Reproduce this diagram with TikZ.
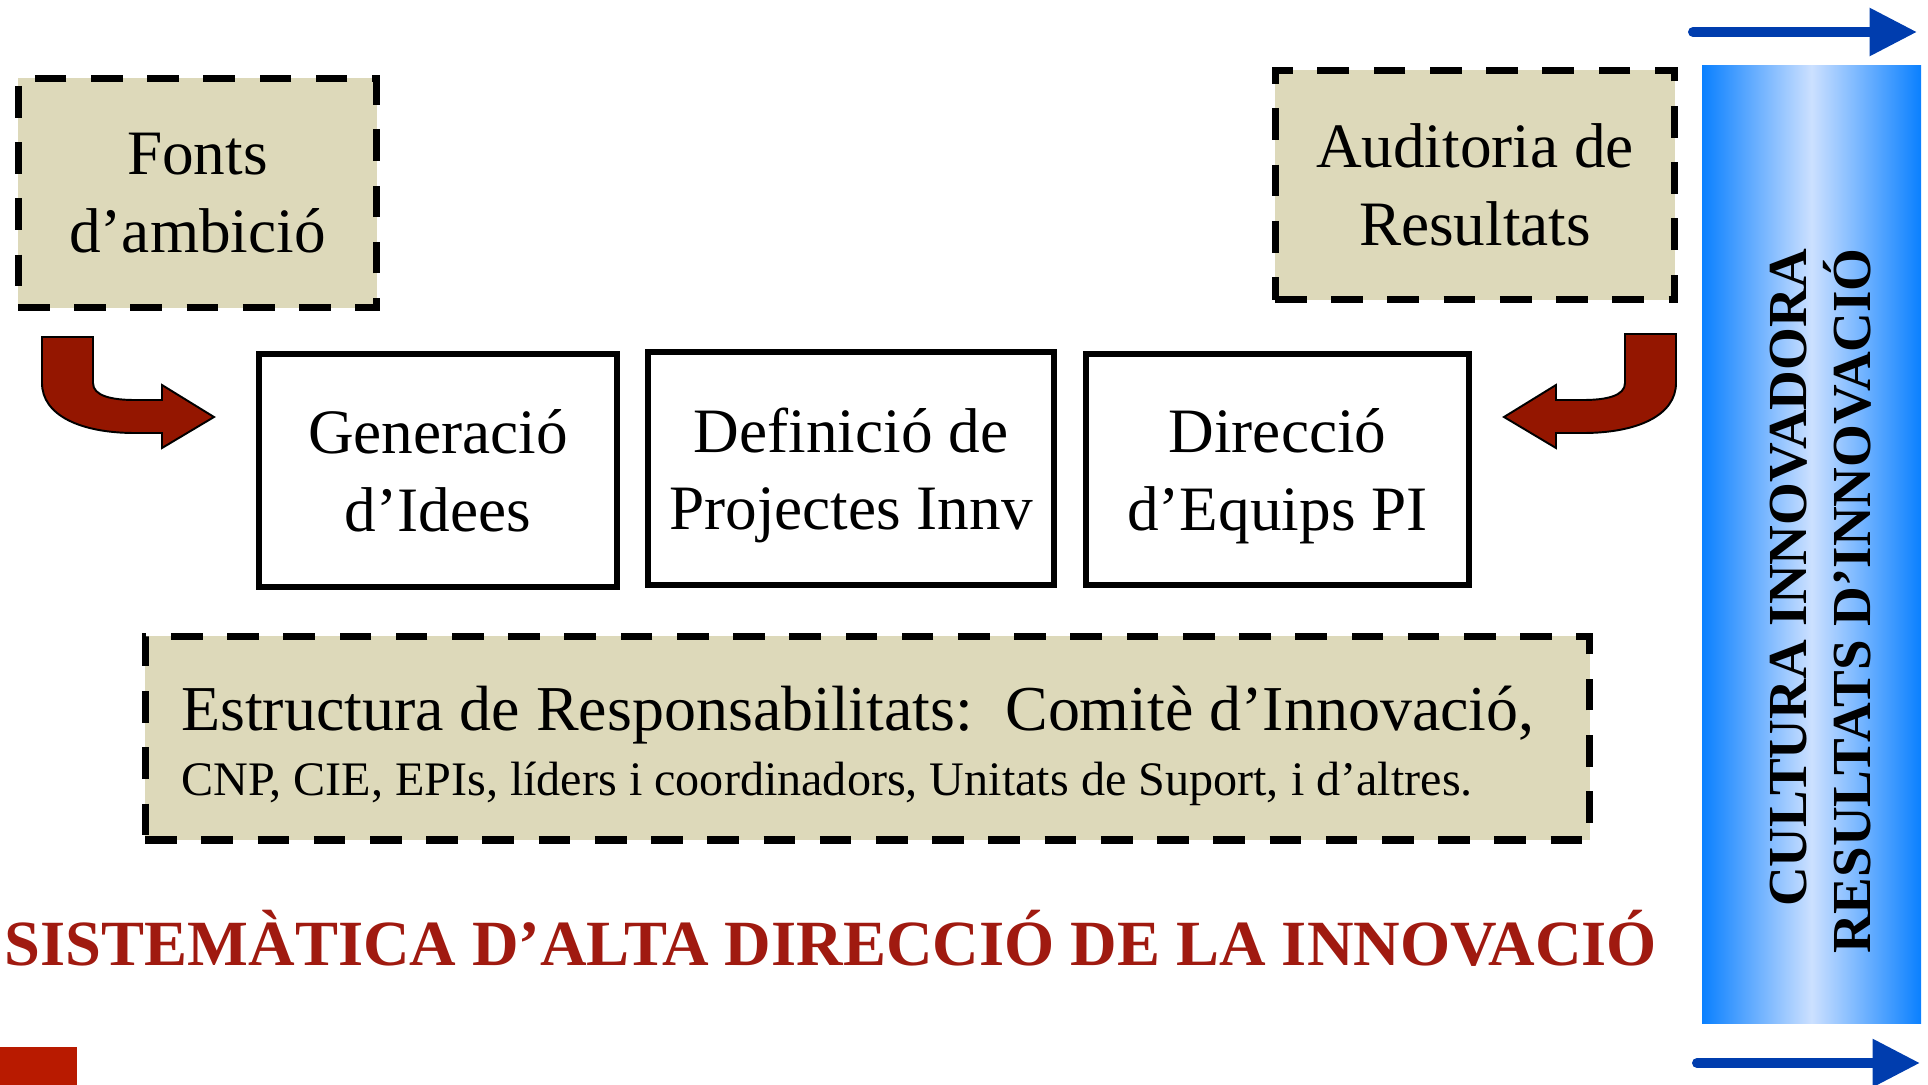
\documentclass[tikz,border=0pt]{standalone}
\usepackage{fontspec}
\setmainfont{Liberation Serif}
\usetikzlibrary{arrows.meta}

\definecolor{boxbeige}{RGB}{221,217,186}
\definecolor{arrowred}{RGB}{148,22,0}
\definecolor{titlered}{RGB}{160,26,16}
\definecolor{blockred}{RGB}{184,26,0}
\definecolor{arrowblue}{RGB}{0,61,174}
\definecolor{barblue}{RGB}{10,128,255}
\definecolor{barpale}{RGB}{204,224,255}

\tikzset{
  dashbox/.style={draw, line width=4pt, dash pattern=on 18pt off 14pt, fill=boxbeige,
    align=center, font=\fontsize{36}{44}\selectfont},
  solidbox/.style={draw, line width=3.4pt, align=center, text depth=0pt,
    font=\fontsize{36}{44}\selectfont},
  bentarrow/.style={draw=black, line width=1.1pt, fill=arrowred},
  bluearrow/.style={draw=arrowblue, line width=5.7pt, line cap=round,
    -{Triangle[length=27pt,width=26pt]}}
}

\begin{document}
\begin{tikzpicture}[x=0.02cm, y=-0.02cm]
    \useasboundingbox (0,0) rectangle (1928,1085);

    % Nodes
    \node[dashbox, minimum width=7.18cm, minimum height=4.6cm] (fonts) at (197.5,193) {Fonts\\d’ambició};
    \node[dashbox, minimum width=8cm, minimum height=4.6cm] (auditoria) at (1475,185) {Auditoria de\\Resultats};
    \node[solidbox, minimum width=7.16cm, minimum height=4.66cm] (generacio) at (438,470.5) {Generació\\d’Idees};
    \node[solidbox, minimum width=8.12cm, minimum height=4.66cm] (definicio) at (851,468.5) {Definició de\\Projectes Innv};
    \node[solidbox, minimum width=7.66cm, minimum height=4.62cm] (direccio) at (1277.5,469.5) {Direcció\\d’Equips PI};
    \node[dashbox, align=flush left, text width=27.46cm, inner sep=0.72cm, minimum height=4.08cm,
      text depth=34pt, font=\fontsize{36.4}{44}\selectfont] (estructura) at (867.5,738)
      {Estructura de Responsabilitats:\ \ Comitè d’Innovació,\\[-7pt]
       {\fontsize{27.4}{32}\selectfont CNP, CIE, EPIs, líders i coordinadors, Unitats de Suport, i d’altres.}};

    \node[anchor=base, text=titlered, font=\bfseries\fontsize{36.7}{40}\selectfont] (title) at (831,965)
      {SISTEMÀTICA D’ALTA DIRECCIÓ DE LA INNOVACIÓ};

    % barra blava
    \shade[left color=barblue, right color=barblue, middle color=barpale] (1702,65) rectangle (1921,1023);
    \node[rotate=90, align=flush right, font=\bfseries\fontsize{31.3}{36.5}\selectfont] (cultura) at (1821,601)
      {CULTURA INNOVADORA\\RESULTATS D’INNOVACIÓ};

    \coordinate (top-start) at (1693,32);
    \coordinate (top-end) at (1917,32);
    \coordinate (bottom-start) at (1697,1063);
    \coordinate (bottom-end) at (1920,1063);
    \draw[bluearrow] (top-start) -- (top-end);
    \draw[bluearrow] (bottom-start) -- (bottom-end);

    % Fletxes corbes
    \draw[bentarrow] (42,337) -- (93,337) -- (93,383) .. controls (93,396) and (112,400) .. (135,400)
      -- (162,400) -- (162,385) -- (214,417) -- (162,448) -- (162,433) -- (135,433)
      .. controls (80,433) and (42,415) .. (42,383) -- cycle;
    \draw[bentarrow] (1676,334) -- (1625,334) -- (1625,383) .. controls (1625,396) and (1606,400) .. (1583,400)
      -- (1556,400) -- (1556,385) -- (1504,417) -- (1556,448) -- (1556,433) -- (1583,433)
      .. controls (1638,433) and (1676,415) .. (1676,383) -- cycle;

    \fill[blockred] (0,1047) rectangle (77,1085);

\end{tikzpicture}
\end{document}
